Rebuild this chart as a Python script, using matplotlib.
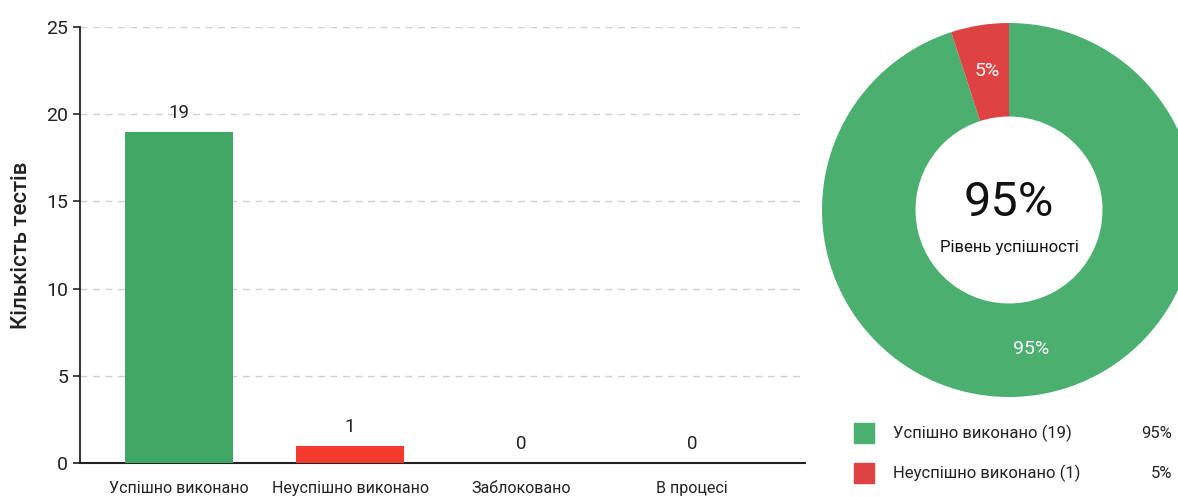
import matplotlib
matplotlib.use("Agg")
import matplotlib.pyplot as plt
from matplotlib.patches import Rectangle

plt.rcParams['font.family'] = ['Roboto', 'DejaVu Sans']

# data
categories = ['Успішно виконано', 'Неуспішно виконано', 'Заблоковано', 'В процесі']
counts = [19, 1, 0, 0]
bar_colors = ['#41A764', '#F33A2E', '#41A764', '#41A764']

pie_labels = ['Успішно виконано (19)', 'Неуспішно виконано (1)']
pie_values = [19, 1]
pie_colors = ['#4BAF70', '#DF4242']
success_rate = '95%'

fig = plt.figure(figsize=(11.78, 4.97), dpi=100)

# bar chart
ax = fig.add_axes([0.068, 0.068, 0.615, 0.878])
x = list(range(len(categories)))
bars = ax.bar(x, counts, width=0.63, color=bar_colors, zorder=3)
for xi, v in zip(x, counts):
    ax.annotate(str(v), (xi, v), xytext=(0, 7), textcoords='offset points',
                ha='center', va='bottom', fontsize=13.5, color='#222222')
ax.set_ylim(0, 25)
ax.set_xlim(-0.58, 3.66)
ax.set_yticks([0, 5, 10, 15, 20, 25])
ax.set_xticks(x)
ax.set_xticklabels(categories, fontsize=11.5, color='#222222')
ax.tick_params(axis='x', length=0, pad=13)
ax.tick_params(axis='y', labelsize=14, length=5, width=1.2, colors='#222222')
ax.grid(axis='y', linestyle=(0, (5, 4)), color='#d0d0d0', linewidth=1, zorder=0)
for s in ['top', 'right']:
    ax.spines[s].set_visible(False)
ax.spines['left'].set_linewidth(1.3)
ax.spines['bottom'].set_linewidth(1.5)
ax.spines['left'].set_color('#222222')
ax.spines['bottom'].set_color('#222222')
ax.set_ylabel('Кількість тестів', fontsize=16, fontweight='medium', labelpad=10, color='#222222')

# donut
pax = fig.add_axes([822 / 1178, 100 / 497, 374 / 1178, 374 / 497])
wedges, texts, autotexts = pax.pie(
    pie_values, colors=pie_colors, startangle=90, counterclock=False,
    wedgeprops=dict(width=0.5, edgecolor='none'),
    autopct='%1.0f%%', pctdistance=0.75,
    textprops=dict(color='white', fontsize=14))
pax.set_xlim(-1, 1)
pax.set_ylim(-1, 1)
pax.set_aspect('equal')
pax.text(0, 0.04, success_rate, ha='center', va='center', fontsize=35, color='#111111')
pax.text(0, -0.2, 'Рівень успішності', ha='center', va='center', fontsize=12, color='#111111')

# legend
total = sum(pie_values)
lax = fig.add_axes([0, 0, 1, 1], facecolor='none')
lax.set_xlim(0, 1178)
lax.set_ylim(497, 0)
lax.axis('off')
for i, (lab, val, col) in enumerate(zip(pie_labels, pie_values, pie_colors)):
    yc = 433 + i * 40
    lax.add_patch(Rectangle((854, yc - 10), 20, 20, color=col))
    lax.text(893, yc, lab, ha='left', va='center', fontsize=12, color='#222222')
    lax.text(1172, yc, f'{val / total * 100:.0f}%', ha='right', va='center',
             fontsize=12, color='#222222')

fig.savefig('out.png', dpi=100)
